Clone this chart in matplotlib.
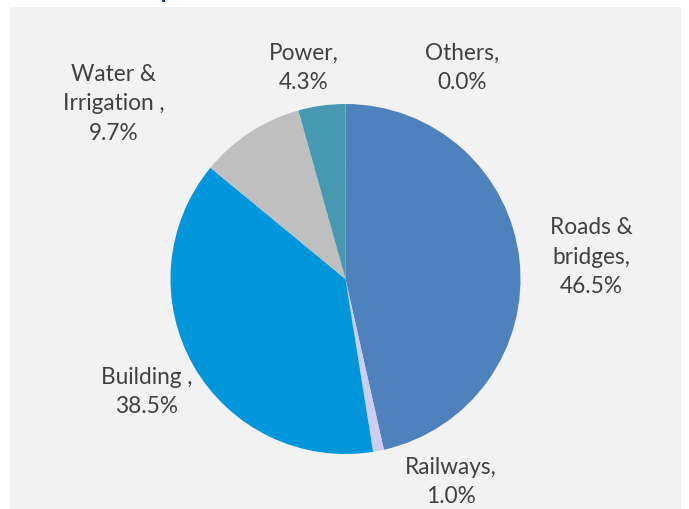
import numpy as np
import matplotlib.pyplot as plt
from matplotlib.patches import Rectangle

# Datos del gráfico (orden horario desde arriba)
sectores = ["Roads &\nbridges", "Railways", "Building ", "Water &\nIrrigation ", "Power", "Others"]
porcentajes = [46.5, 1.0, 38.5, 9.7, 4.3, 0.04]
colores = ["#4F81BD", "#CDCDF0", "#0096DB", "#BFBFBF", "#4599B0", "#8C8A6E"]

# posiciones de las etiquetas (unidades del radio)
pos_etiquetas = [(1.406, 0.131), (0.60, -1.154), (-1.137, -0.64),
                 (-1.326, 1.006), (-0.240, 1.211), (0.669, 1.211)]

plt.rcParams['font.family'] = ['Lato', 'DejaVu Sans']

W, H = 689, 510
fig = plt.figure(figsize=(W / 100, H / 100), dpi=100)
fig.patch.set_facecolor("white")

# panel gris de fondo
fig.patches.append(Rectangle((10 / W, -0.01), 671 / W, (H - 8) / H + 0.01,
                             transform=fig.transFigure, facecolor="#F2F2F2",
                             edgecolor="none", zorder=0))
# resto del título cortado arriba
fig.patches.append(Rectangle((162 / W, (H - 3) / H), 3 / W, 3 / H,
                             transform=fig.transFigure, facecolor="#1F3F8F",
                             edgecolor="none", zorder=1))

ax = fig.add_axes([0, 0, 1, 1])
ax.set_zorder(2)
ax.set_facecolor("none")

r_px = 175
cx, cy = 345.5, 280
ax.pie(porcentajes, colors=colores, startangle=90, counterclock=False,
       wedgeprops=dict(linewidth=0))

for nombre, v, (x, y) in zip(sectores, porcentajes, pos_etiquetas):
    ax.text(x, y, f"{nombre},\n{v:.1f}%", ha='center', va='center',
            multialignment='center', fontsize=16.3, color="#404040", linespacing=1.5)

ax.set_xlim(-cx / r_px, (W - cx) / r_px)
ax.set_ylim(-(H - cy) / r_px, cy / r_px)
ax.set_aspect('auto')
ax.axis('off')

fig.savefig("out.png", dpi=100)
